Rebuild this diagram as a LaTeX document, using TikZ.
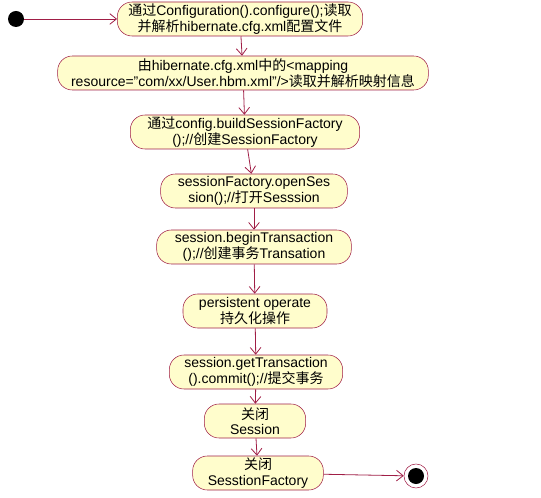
\documentclass[tikz,border=0pt]{standalone}
\usepackage{fontspec}
\setmainfont{Liberation Sans}
\newfontfamily\cjk{Noto Sans CJK SC}
\usepackage{xcolor}
\usetikzlibrary{arrows.meta, positioning}
\definecolor{umlred}{RGB}{160,30,70}
\definecolor{umlfill}{RGB}{255,253,204}

\begin{document}
\begin{tikzpicture}[
    x=0.75pt, y=-0.75pt,
    act/.style={draw=umlred, fill=umlfill, rounded corners=11pt, align=center, inner sep=1pt, minimum height=25.5pt, font=\fontsize{10.5}{11.6}\selectfont},
    arrow/.style={-{Straight Barb[length=5pt, width=8pt]}, draw=umlred, semithick}
]
\useasboundingbox (0,0) rectangle (541,498);

\node[circle, fill=black, inner sep=0pt, minimum size=12pt] (start) at (16,19) {};
\node[act, minimum width=184pt] (conf) at (240,19) {{\cjk 通过}Configuration().configure();{\cjk 读取}\\{\cjk 并解析}hibernate.cfg.xml{\cjk 配置文件}};
\node[act, minimum width=278pt] (mapping) at (243,73) {{\cjk 由}hibernate.cfg.xml{\cjk 中的}<mapping\\resource="com/xx/User.hbm.xml"/>{\cjk 读取并解析映射信息}};
\node[act, minimum width=172pt] (build) at (245,132) {{\cjk 通过}config.buildSessionFactory\\();//{\cjk 创建}SessionFactory};
\node[act, minimum width=140pt] (open) at (254,191) {sessionFactory.openSes\\sion();//{\cjk 打开}Sesssion};
\node[act, minimum width=146pt] (begin) at (254,247) {session.beginTransaction\\();//{\cjk 创建事务}Transation};
\node[act, minimum width=108pt] (persist) at (255,311) {persistent operate\\{\cjk 持久化操作}};
\node[act, minimum width=130pt] (commit) at (256,372) {session.getTransaction\\().commit();//{\cjk 提交事务}};
\node[act, minimum width=76pt] (closesession) at (255,421) {{\cjk 关闭}\\Session};
\node[act, minimum width=98pt] (closefactory) at (258,473) {{\cjk 关闭}\\SesstionFactory};
\node[circle, draw=umlred, fill=white, inner sep=0pt, minimum size=18pt] (finish) at (416,476) {};
\node[circle, fill=black, inner sep=0pt, minimum size=12pt] (finishdot) at (finish) {};

\draw[arrow] (start) -- (conf);
\draw[arrow] (conf) -- (mapping);
\draw[arrow] (mapping) -- (build);
\draw[arrow] (build) -- (open);
\draw[arrow] (open) -- (begin);
\draw[arrow] (begin) -- (persist);
\draw[arrow] (persist) -- (commit);
\draw[arrow] (commit) -- (closesession);
\draw[arrow] (closesession) -- (closefactory);
\draw[arrow] (closefactory) -- (finish);

\end{tikzpicture}
\end{document}
